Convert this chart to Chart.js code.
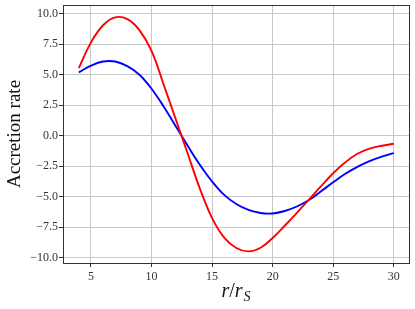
<!DOCTYPE html>
<html>
<head>
<meta charset="utf-8">
<script src="https://cdn.jsdelivr.net/npm/chart.js@4"></script>
<style>
  html, body { margin: 0; padding: 0; background: #ffffff; }
  #c { display: block; }
</style>
</head>
<body>
<canvas id="c" width="415" height="309"></canvas>
<script>
// ---- data ----
const radii = [4, 5, 6, 7, 8, 9, 10, 11, 12, 13, 14, 15, 16, 17, 18, 19, 20, 21, 22, 23, 24, 25, 26, 27, 28, 29, 30];
const redSeries = [5.55, 7.65, 9.05, 9.7, 9.55, 8.65, 6.95, 4.2, 1.35, -1.5, -4.35, -6.75, -8.35, -9.2, -9.48, -9.18, -8.38, -7.38, -6.33, -5.23, -4.13, -3.08, -2.18, -1.48, -1.06, -0.82, -0.66];
const blueSeries = [5.19, 5.74, 6.08, 6.08, 5.7, 5.0, 3.85, 2.4, 0.78, -0.85, -2.4, -3.75, -4.85, -5.6, -6.08, -6.33, -6.37, -6.17, -5.8, -5.27, -4.55, -3.82, -3.12, -2.55, -2.08, -1.72, -1.42];
const xTicks = [5, 10, 15, 20, 25, 30];
const yTicks = [-10, -7.5, -5, -2.5, 0, 2.5, 5, 7.5, 10];
const yTitle = 'Accretion rate';

const FONT = "'Liberation Serif', 'Times New Roman', serif";

const toPoints = (ys) => radii.map((x, i) => ({ x: x, y: ys[i] }));

const framePlugin = {
  id: 'frame',
  afterDatasetsDraw(chart) {
    const { ctx, chartArea: a } = chart;
    ctx.save();
    ctx.strokeStyle = '#333333';
    ctx.lineWidth = 1;
    ctx.strokeRect(a.left + 0.5, a.top + 0.5, a.right - a.left, a.bottom - a.top);
    ctx.restore();
  }
};

const titlesPlugin = {
  id: 'titles',
  afterDraw(chart) {
    const { ctx, chartArea: a } = chart;
    ctx.save();
    ctx.fillStyle = '#111';
    // y title
    ctx.save();
    ctx.translate(19.5, (a.top + a.bottom) / 2);
    ctx.rotate(-Math.PI / 2);
    ctx.font = '19px ' + FONT;
    ctx.textAlign = 'center';
    ctx.textBaseline = 'alphabetic';
    ctx.fillText(yTitle, 0, 0);
    ctx.restore();
    // x title: r/r_S
    const base = 297;
    const fIt = 'italic 20px ' + FONT;
    const fUp = '20px ' + FONT;
    const fSub = 'italic 14px ' + FONT;
    ctx.font = fIt; const wr = ctx.measureText('r').width;
    ctx.font = fUp; const ws = ctx.measureText('/').width;
    ctx.font = fSub; const wS = ctx.measureText('S').width;
    const total = wr + ws + wr + wS + 1;
    let x = (a.left + a.right) / 2 - total / 2;
    ctx.textAlign = 'left';
    ctx.textBaseline = 'alphabetic';
    ctx.font = fIt; ctx.fillText('r', x, base); x += wr;
    ctx.font = fUp; ctx.fillText('/', x, base); x += ws;
    ctx.font = fIt; ctx.fillText('r', x, base); x += wr + 1;
    ctx.font = fSub; ctx.fillText('S', x, base + 3.5);
    ctx.restore();
  }
};

const fmtY = (v) => {
  const s = Math.abs(v).toFixed(1);
  return v < 0 ? '\u2212' + s : s;
};

new Chart(document.getElementById('c'), {
  type: 'line',
  data: {
    datasets: [
      { label: 'red', data: toPoints(redSeries), borderColor: '#ff0000', borderWidth: 1.9, pointRadius: 0, tension: 0.4, fill: false },
      { label: 'blue', data: toPoints(blueSeries), borderColor: '#0000ff', borderWidth: 1.9, pointRadius: 0, tension: 0.4, fill: false }
    ]
  },
  options: {
    responsive: false,
    animation: false,
    devicePixelRatio: 1,
    layout: { padding: { left: 0, top: 5, right: 6, bottom: 0 } },
    plugins: { legend: { display: false }, tooltip: { enabled: false } },
    scales: {
      x: {
        type: 'linear',
        min: 2.69,
        max: 31.26,
        afterBuildTicks: (s) => { s.ticks = xTicks.map(v => ({ value: v })); },
        afterFit: (s) => { s.height = 46; s.paddingLeft = 0; s.paddingRight = 0; },
        ticks: { font: { family: FONT, size: 12 }, color: '#333', padding: 3, maxRotation: 0, callback: (v) => String(v) },
        grid: { color: '#c8c8c8', lineWidth: 1, drawTicks: true, tickLength: 4, tickColor: '#333' },
        border: { display: false }
      },
      y: {
        type: 'linear',
        min: -10.43,
        max: 10.71,
        afterBuildTicks: (s) => { s.ticks = yTicks.map(v => ({ value: v })); },
        afterFit: (s) => { s.width = 63; s.paddingTop = 0; s.paddingBottom = 0; },
        ticks: { font: { family: FONT, size: 12 }, color: '#333', padding: 1, callback: (v) => fmtY(v) },
        grid: { color: '#c8c8c8', lineWidth: 1, drawTicks: true, tickLength: 4, tickColor: '#333' },
        border: { display: false }
      }
    }
  },
  plugins: [framePlugin, titlesPlugin]
});
</script>
</body>
</html>
